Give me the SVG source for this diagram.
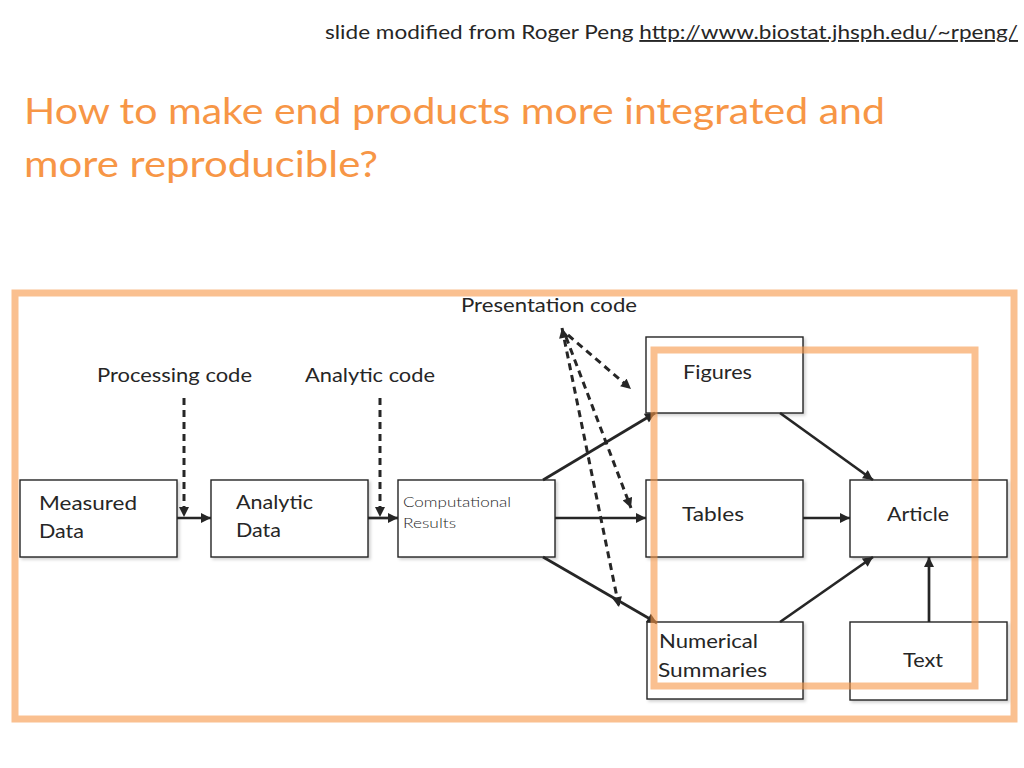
<svg xmlns="http://www.w3.org/2000/svg" width="1024" height="768" viewBox="0 0 1024 768">
  <defs>
    <style>
      .box { fill: #ffffff; stroke: #262626; stroke-width: 1.4; filter: url(#shadow); }
      .lbl { font-family: Lato, "Open Sans", "Liberation Sans", sans-serif; font-size: 20px; fill: #262626; }
      .small { font-family: Lato, "Open Sans", "Liberation Sans", sans-serif; font-size: 14px; font-weight: 300; fill: #262626; }
      .code { font-family: Lato, "Open Sans", "Liberation Sans", sans-serif; font-size: 20px; fill: #262626; }
      .title { font-family: Lato, "Open Sans", "Liberation Sans", sans-serif; font-size: 36px; fill: #F79646; }
      .credit { font-family: Lato, "Open Sans", "Liberation Sans", sans-serif; font-size: 19px; fill: #262626; }
      .edge { stroke: #262626; stroke-width: 2.7; fill: none; marker-end: url(#arrow); }
      .dash { stroke: #262626; stroke-width: 3; fill: none; stroke-dasharray: 7 5; marker-end: url(#arrow); }
      .frame { fill: none; stroke: #F79646; stroke-width: 7; stroke-opacity: 0.6; }
    </style>
    <filter id="shadow" x="-10%" y="-10%" width="130%" height="130%">
      <feDropShadow dx="2" dy="2" stdDeviation="1.5" flood-color="#000000" flood-opacity="0.18"/>
    </filter>
    <marker id="arrow" viewBox="0 0 10 10" refX="10" refY="5" markerWidth="11" markerHeight="10" markerUnits="userSpaceOnUse" orient="auto-start-reverse">
      <path d="M0,0 L10,5 L0,10 Z" fill="#262626"/>
    </marker>
  </defs>

  <rect width="1024" height="768" fill="#ffffff"/>

  <!-- credit line -->
  <text class="credit" x="325" y="39" textLength="693" lengthAdjust="spacingAndGlyphs">slide modified from Roger Peng <tspan text-decoration="underline">http://www.biostat.jhsph.edu/~rpeng/</tspan></text>

  <!-- title -->
  <text class="title" x="24" y="124" textLength="861" lengthAdjust="spacingAndGlyphs">How to make end products more integrated and</text>
  <text class="title" x="24" y="177" textLength="354" lengthAdjust="spacingAndGlyphs">more reproducible?</text>

  <!-- code labels -->
  <text class="code" x="97" y="382" textLength="155" lengthAdjust="spacingAndGlyphs">Processing code</text>
  <text class="code" x="305" y="382" textLength="130" lengthAdjust="spacingAndGlyphs">Analytic code</text>
  <text class="code" x="461" y="312" textLength="176" lengthAdjust="spacingAndGlyphs">Presentation code</text>

  <!-- nodes -->
  <g id="measured-data">
    <rect class="box" x="20" y="480" width="157" height="77"/>
    <text class="lbl" x="39" y="510" textLength="98" lengthAdjust="spacingAndGlyphs">Measured</text>
    <text class="lbl" x="39" y="538" textLength="45" lengthAdjust="spacingAndGlyphs">Data</text>
  </g>
  <g id="analytic-data">
    <rect class="box" x="211" y="480" width="157" height="77"/>
    <text class="lbl" x="236" y="509" textLength="77" lengthAdjust="spacingAndGlyphs">Analytic</text>
    <text class="lbl" x="236" y="537" textLength="45" lengthAdjust="spacingAndGlyphs">Data</text>
  </g>
  <g id="computational-results">
    <rect class="box" x="398" y="480" width="157" height="77"/>
    <text class="small" x="403" y="507" textLength="108" lengthAdjust="spacingAndGlyphs">Computational</text>
    <text class="small" x="403" y="528" textLength="53" lengthAdjust="spacingAndGlyphs">Results</text>
  </g>
  <g id="figures">
    <rect class="box" x="646" y="337" width="157" height="76"/>
    <text class="lbl" x="683" y="379" textLength="69" lengthAdjust="spacingAndGlyphs">Figures</text>
  </g>
  <g id="tables">
    <rect class="box" x="646" y="480" width="157" height="77"/>
    <text class="lbl" x="682" y="521" textLength="62" lengthAdjust="spacingAndGlyphs">Tables</text>
  </g>
  <g id="numerical-summaries">
    <rect class="box" x="647" y="622" width="156" height="77"/>
    <text class="lbl" x="659" y="648" textLength="99" lengthAdjust="spacingAndGlyphs">Numerical</text>
    <text class="lbl" x="658" y="677" textLength="109" lengthAdjust="spacingAndGlyphs">Summaries</text>
  </g>
  <g id="article">
    <rect class="box" x="850" y="480" width="157" height="77"/>
    <text class="lbl" x="887" y="521" textLength="62" lengthAdjust="spacingAndGlyphs">Article</text>
  </g>
  <g id="text">
    <rect class="box" x="850" y="622" width="157" height="78"/>
    <text class="lbl" x="903" y="667" textLength="40" lengthAdjust="spacingAndGlyphs">Text</text>
  </g>

  <!-- connectors -->
  <g id="connectors">
    <line class="edge" x1="177" y1="518" x2="211" y2="518"/>
    <line class="edge" x1="368" y1="518" x2="398" y2="518"/>
    <line class="dash" x1="184" y1="398" x2="184" y2="517"/>
    <line class="dash" x1="380" y1="398" x2="380" y2="517"/>
    <line class="edge" x1="543" y1="480" x2="655" y2="413"/>
    <line class="edge" x1="555" y1="518" x2="646" y2="518"/>
    <line class="edge" x1="543" y1="557" x2="657" y2="623"/>
    <line class="edge" x1="780" y1="413" x2="873" y2="480"/>
    <line class="edge" x1="803" y1="518" x2="850" y2="518"/>
    <line class="edge" x1="780" y1="622" x2="873" y2="557"/>
    <line class="edge" x1="929" y1="622" x2="929" y2="557"/>
    <line class="dash" x1="568" y1="335" x2="631" y2="389"/>
    <line class="dash" x1="566" y1="337" x2="631" y2="508"/>
    <line class="dash" x1="562" y1="328" x2="619" y2="607" marker-start="url(#arrow)"/>
  </g>

  <!-- highlight frames -->
  <rect class="frame" x="15" y="293" width="999" height="426"/>
  <rect class="frame" x="654" y="350" width="321" height="336"/>
</svg>
